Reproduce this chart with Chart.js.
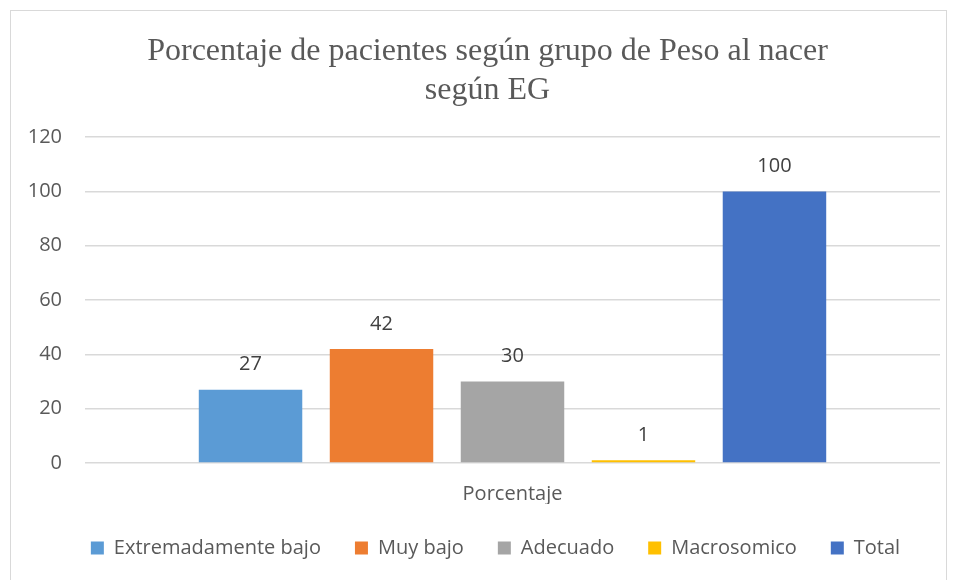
<!DOCTYPE html>
<html>
<head>
<meta charset="utf-8">
<script src="https://cdn.jsdelivr.net/npm/chart.js@4"></script>
<style>
  body { margin: 0; background: #fff; overflow: hidden; }
  #box {
    position: absolute; left: 10px; top: 10px;
    width: 937px; height: 590px;
    border: 1px solid #d9d9d9; box-sizing: border-box;
  }
</style>
</head>
<body>
<div id="box"><canvas id="chart"></canvas></div>
<script>
const categories = ["Porcentaje"];
const seriesNames = ["Extremadamente bajo", "Muy bajo", "Adecuado", "Macrosomico", "Total"];
const seriesValues = [27, 42, 30, 1, 100];
const seriesColors = ["#5B9BD5", "#ED7D31", "#A5A5A5", "#FFC000", "#4472C4"];
const titleLines = ["Porcentaje de pacientes según grupo de Peso al nacer", "según EG"];

const textColor = "#595959";
const uiFont = "'Open Sans', 'Liberation Sans', sans-serif";

// value labels above each bar
const barLabels = {
  id: "barLabels",
  afterDatasetsDraw(chart) {
    const ctx = chart.ctx;
    ctx.save();
    ctx.font = "20px " + uiFont;
    ctx.fillStyle = "#404040";
    ctx.textAlign = "center";
    ctx.textBaseline = "middle";
    chart.data.datasets.forEach((ds, i) => {
      chart.getDatasetMeta(i).data.forEach((bar, j) => {
        ctx.fillText(ds.data[j], bar.x, bar.y - 25);
      });
    });
    ctx.restore();
  }
};

// title and legend in the original sit a bit right of the canvas centre
const nudge = {
  id: "nudge",
  afterLayout(chart) {
    if (chart.titleBlock) { chart.titleBlock.left += 6; chart.titleBlock.right += 6; }
    if (chart.legend) { chart.legend.left += 14; chart.legend.right += 14; }
  }
};

new Chart(document.getElementById("chart"), {
  type: "bar",
  data: {
    labels: categories,
    datasets: seriesNames.map((name, i) => ({
      label: name,
      data: [seriesValues[i]],
      backgroundColor: seriesColors[i],
      barPercentage: 0.79,
      categoryPercentage: 0.766
    }))
  },
  options: {
    responsive: true,
    maintainAspectRatio: false,
    animation: false,
    layout: { padding: { left: 12, right: 6, top: 0, bottom: 31 } },
    plugins: {
      title: {
        display: true,
        text: titleLines,
        color: textColor,
        font: { family: "'Liberation Serif', 'DejaVu Serif', serif", size: 32, weight: "normal", lineHeight: 1.19 },
        padding: { top: 22, bottom: 28 }
      },
      legend: {
        position: "bottom",
        labels: {
          color: textColor,
          font: { family: uiFont, size: 20 },
          boxWidth: 13,
          boxHeight: 13,
          padding: 34
        }
      },
      tooltip: { enabled: false }
    },
    scales: {
      x: {
        grid: { display: false, drawTicks: false },
        border: { display: false },
        afterFit(scale) { scale.height -= 21; },
        ticks: { color: textColor, font: { family: uiFont, size: 20 }, padding: 19 }
      },
      y: {
        min: 0,
        max: 120,
        afterFit(scale) { scale.width = 62; },
        ticks: { stepSize: 20, color: textColor, font: { family: uiFont, size: 20 }, padding: 23 },
        grid: { color: "#d9d9d9", lineWidth: 1.5, drawTicks: false },
        border: { display: false }
      }
    }
  },
  plugins: [barLabels, nudge]
});
</script>
</body>
</html>
